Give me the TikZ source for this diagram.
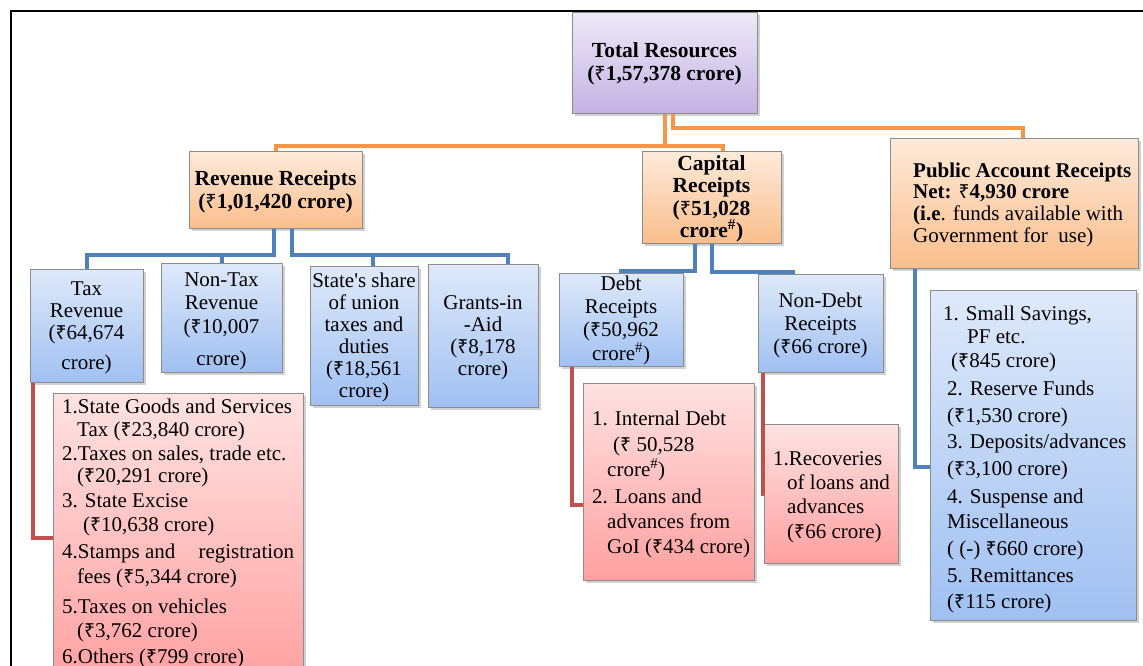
\documentclass[tikz,border=0pt]{standalone}
\usepackage{fontspec}
\setmainfont{Liberation Serif}
\newfontfamily\rupfont[Scale=0.92]{Noto Sans}
\usetikzlibrary{shadows}
\newcommand{\rs}{{\rupfont ₹}}
\newcommand{\myst}{\rule{0pt}{17pt}}
\definecolor{bluetop}{RGB}{222,233,250}
\definecolor{bluebot}{RGB}{160,192,242}
\definecolor{redtop}{RGB}{255,226,226}
\definecolor{redbot}{RGB}{255,160,160}
\definecolor{ortop}{RGB}{254,234,218}
\definecolor{orbot}{RGB}{250,190,140}
\definecolor{purtop}{RGB}{238,233,247}
\definecolor{purbot}{RGB}{196,178,228}
\definecolor{olinecol}{RGB}{247,150,70}
\definecolor{blinecol}{RGB}{79,129,189}
\definecolor{rlinecol}{RGB}{192,80,77}
\begin{document}
\begin{tikzpicture}[x=1pt,y=-1pt,
  box/.style={draw=black!45, line width=0.8pt, inner sep=0pt, anchor=north west,
    drop shadow={shadow xshift=2.5pt, shadow yshift=-2.5pt, opacity=0.3, fill=black!60}},
  bluebox/.style={box, top color=bluetop, bottom color=bluebot},
  redbox/.style={box, top color=redtop, bottom color=redbot},
  orbox/.style={box, top color=ortop, bottom color=orbot},
  purbox/.style={box, top color=purtop, bottom color=purbot},
  txt/.style={inner sep=0pt, font=\fontsize{21}{23}\selectfont},
  ctxt/.style={txt, anchor=north, align=center},
  ltxt/.style={txt, anchor=north west, align=left},
  oconn/.style={draw=olinecol, line width=4pt},
  bconn/.style={draw=blinecol, line width=4pt},
  rconn/.style={draw=rlinecol, line width=4pt},
]
\useasboundingbox (0,0) rectangle (1143,666);

% boxes
\node[purbox, minimum width=185, minimum height=101] (tot) at (572,12) {};
\node[orbox, minimum width=173, minimum height=77] (rev) at (189,151) {};
\node[orbox, minimum width=139, minimum height=92] (cap) at (642,151) {};
\node[orbox, minimum width=248, minimum height=130] (pub) at (890,138) {};
\node[bluebox, minimum width=113, minimum height=113] (tax) at (30,269) {};
\node[bluebox, minimum width=121, minimum height=109] (ntax) at (161,263) {};
\node[bluebox, minimum width=108, minimum height=139] (share) at (310,266) {};
\node[bluebox, minimum width=110, minimum height=143] (grant) at (428,264) {};
\node[bluebox, minimum width=124, minimum height=93] (debt) at (559,273) {};
\node[bluebox, minimum width=125, minimum height=98] (ndebt) at (758,274) {};
\node[redbox, minimum width=250, minimum height=290] (taxd) at (53,393) {};
\node[redbox, minimum width=171, minimum height=197] (idebt) at (583,383) {};
\node[redbox, minimum width=134, minimum height=139] (rec) at (764,424) {};
\node[bluebox, minimum width=206, minimum height=330] (pdet) at (930,290) {};

% texts
\node[ctxt, font=\bfseries\fontsize{21.5}{23}\selectfont] (tottxt) at (664.5,40)
  {\myst Total Resources\\(\rs1,57,378 crore)};
\node[ctxt, font=\bfseries\fontsize{21.5}{23}\selectfont] (revtxt) at (275.5,168)
  {\myst Revenue Receipts\\(\rs1,01,420 crore)};
\node[ctxt, font=\bfseries\fontsize{21.5}{22.4}\selectfont] (captxt) at (711.5,153)
  {\myst Capital\\Receipts\\(\rs51,028\\crore\textsuperscript{\#})};
\node[ltxt, font=\fontsize{21}{21.7}\selectfont] (pubtxt) at (913,160)
  {\myst\textbf{Public Account Receipts}\\\textbf{Net: \rs4,930 crore}\\\textbf{(i.e}. funds available with\\Government for\ \ use)};
\node[ctxt, font=\fontsize{21}{22}\selectfont] (taxtxt) at (86.5,278)
  {\myst Tax\\Revenue\\(\rs64,674\\[8pt]crore)};
\node[ctxt, font=\fontsize{21}{23.5}\selectfont] (ntaxtxt) at (221.5,269)
  {\myst Non-Tax\\Revenue\\(\rs10,007\\[9pt]crore)};
\node[ctxt, font=\fontsize{21}{22}\selectfont] (sharetxt) at (364,270)
  {\myst State\textquotesingle s share\\of union\\taxes and\\duties\\(\rs18,561\\crore)};
\node[ctxt, font=\fontsize{21}{22}\selectfont] (granttxt) at (483,292)
  {\myst Grants-in\\-Aid\\(\rs8,178\\crore)};
\node[ctxt, font=\fontsize{21}{23.3}\selectfont] (debttxt) at (621,273)
  {\myst Debt\\Receipts\\(\rs50,962\\crore\textsuperscript{\#})};
\node[ctxt, font=\fontsize{21}{23}\selectfont] (ndebttxt) at (820.5,290)
  {\myst Non-Debt\\Receipts\\(\rs66 crore)};
\node[ltxt, font=\fontsize{21}{23}\selectfont] (taxdtxt) at (62,396)
  {\myst 1.State Goods and Services\\
   \hspace*{15pt}Tax (\rs23,840 crore)\\[1pt]
   2.Taxes on sales, trade etc.\\[-1pt]
   \hspace*{15pt}(\rs20,291 crore)\\[2pt]
   3. State Excise\\[1pt]
   \hspace*{21pt}(\rs10,638 crore)\\[4pt]
   \hbox to 232pt{4.Stamps and\hfill registration}\\[2pt]
   \hspace*{15pt}fees (\rs5,344 crore)\\[7pt]
   5.Taxes on vehicles\\[1pt]
   \hspace*{15pt}(\rs3,762 crore)\\[3pt]
   6.Others (\rs799 crore)};
\node[ltxt, font=\fontsize{21}{25}\selectfont] (idebttxt) at (592,408)
  {\myst 1. Internal Debt\\[1pt]
   \hspace*{21pt}(\rs\ 50,528\\
   \hspace*{15pt}crore\textsuperscript{\#})\\[2pt]
   2. Loans and\\
   \hspace*{15pt}advances from\\
   \hspace*{15pt}GoI (\rs434 crore)};
\node[ltxt, font=\fontsize{21}{24.3}\selectfont] (rectxt) at (773,448)
  {\myst 1.Recoveries\\
   \hspace*{14pt}of loans and\\
   \hspace*{14pt}advances\\
   \hspace*{14pt}(\rs66 crore)};
\node[ltxt, font=\fontsize{21}{26}\selectfont] (pdettxt) at (943,303)
  {\myst 1. Small Savings,\\[-3pt]
   \hspace*{24pt}PF etc.\\[-2pt]
   \hspace*{8pt}(\rs845 crore)\\[2pt]
   \hspace*{4pt}2. Reserve Funds\\[1pt]
   \hspace*{4pt}(\rs1,530 crore)\\
   \hspace*{4pt}3. Deposits/advances\\[1pt]
   \hspace*{4pt}(\rs3,100 crore)\\[2pt]
   \hspace*{4pt}4. Suspense and\\[-1pt]
   \hspace*{4pt}Miscellaneous\\[1pt]
   \hspace*{4pt}( (-) \rs660 crore)\\[1pt]
   \hspace*{4pt}5. Remittances\\
   \hspace*{4pt}(\rs115 crore)};

% helper coordinates
\coordinate (oy1) at (0,146);
\coordinate (oy2) at (0,128);
\coordinate (by1) at (0,255);
\coordinate (totR) at ([xshift=8.5pt]tot.south);
\coordinate (capTop) at ([xshift=11.5pt]cap.north);
\coordinate (pubTop) at ([xshift=9pt]pub.north);
\coordinate (revL) at ([xshift=-1.5pt]rev.south);
\coordinate (revR) at ([xshift=16.5pt]rev.south);
\coordinate (shareTop) at ([xshift=9pt]share.north);
\coordinate (grantTop) at ([xshift=25pt]grant.north);
\coordinate (capL) at ([xshift=-16.5pt]cap.south);
\coordinate (capR) at ([xshift=0.5pt]cap.south);
\coordinate (debtTop) at ([yshift=2pt]debt.north);
\coordinate (ndTop) at ([xshift=-27.5pt]ndebt.north);
\coordinate (ndTopUp) at ([xshift=-27.5pt,yshift=2pt]ndebt.north);
\coordinate (taxR) at ([xshift=3pt]tax.south west);
\coordinate (debtR) at ([xshift=13pt]debt.south west);
\coordinate (idebtIn) at ([yshift=-23.5pt]idebt.west);
\coordinate (ndR) at ([xshift=5pt]ndebt.south west);
\coordinate (pubB) at ([xshift=25pt]pub.south west);
\coordinate (pdetIn) at ([yshift=-12pt]pdet.west);

% orange connectors
\draw[oconn] (tot.south) -- (tot.south |- oy1) -| (rev.north);
\draw[oconn] (tot.south) -- (tot.south |- oy1) -| (capTop);
\draw[oconn] (totR) -- (totR |- oy2) -| (pubTop);

% blue connectors
\draw[bconn] (revL) -- (revL |- by1) -| (tax.north);
\draw[bconn] (revL) -- (revL |- by1) -| (ntax.north);
\draw[bconn] (revR) -- (revR |- by1) -| (shareTop);
\draw[bconn] (revR) -- (revR |- by1) -| (grantTop);
\draw[bconn] (capL) |- (debtTop) -- (debt.north);
\draw[bconn] (capR) |- (ndTopUp) -- (ndTop);
\draw[bconn] (pubB) |- (pdetIn);

% red connectors
\draw[rconn] (taxR) |- (taxd.west);
\draw[rconn] (debtR) |- (idebtIn);
\draw[rconn] (ndR) |- (rec.west);

% frame
\coordinate (fr1) at (1143,11);
\coordinate (fr2) at (11,11);
\coordinate (fr3) at (11,666);
\draw[line width=2pt] (fr1) -- (fr2) -- (fr3);
\end{tikzpicture}
\end{document}
